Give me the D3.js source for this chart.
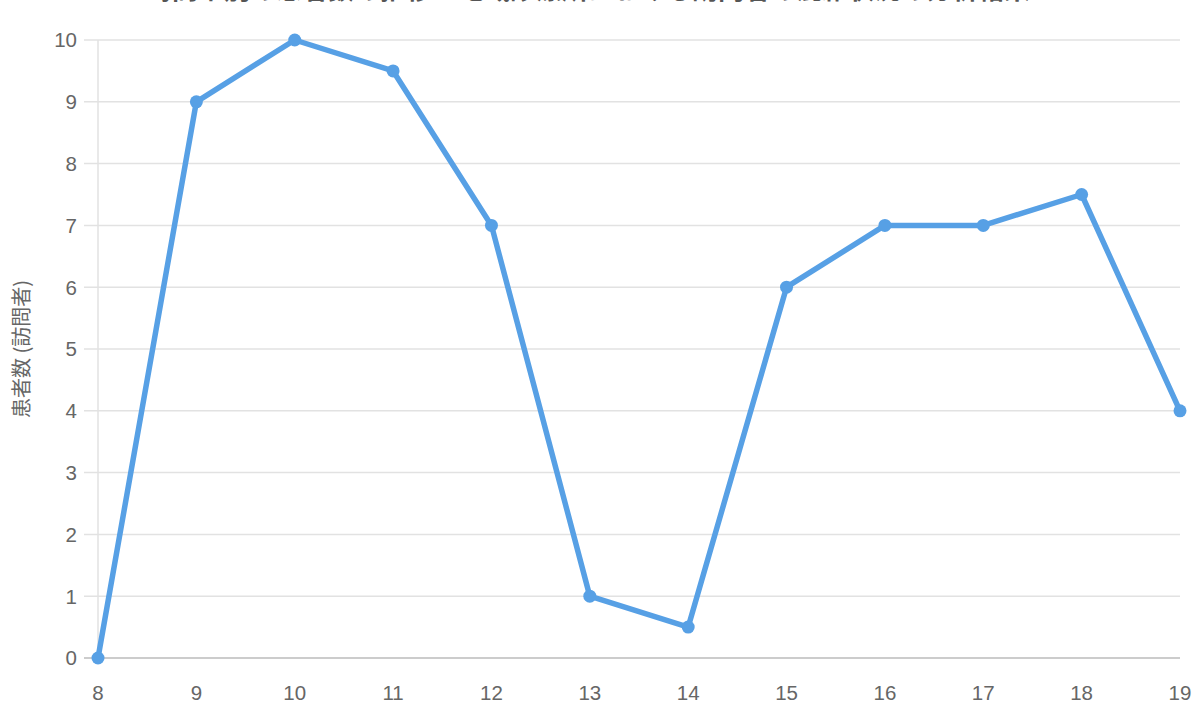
<!DOCTYPE html>
<html><head><meta charset="utf-8">
<script src="https://cdn.jsdelivr.net/npm/d3@7"></script>
<style>
html,body{margin:0;padding:0;background:#fff;}
svg text{font-family:"Liberation Sans","Noto Sans CJK JP",Arial,sans-serif;}
</style></head>
<body>
<svg id="c" width="1200" height="720"></svg>
<script>
const hours = [8,9,10,11,12,13,14,15,16,17,18,19];
const patients = [0,9,10,9.5,7,1,0.5,6,7,7,7.5,4];
const yTicks = [0,1,2,3,4,5,6,7,8,9,10];
const title = "時間帯別の患者数の推移：地域診療所における訪問者の混雑状況の分析結果";
const yLabel = "患者数 (訪問者)";

const svg = d3.select("#c");
const x = d3.scaleLinear().domain([8,19]).range([98,1180]);
const y = d3.scaleLinear().domain([0,10]).range([658,40]);

// gridlines
svg.append("g").selectAll("line").data(yTicks).join("line")
  .attr("x1",84).attr("x2",1180)
  .attr("y1",d=>y(d)).attr("y2",d=>y(d))
  .attr("stroke",d=>d===0?"#cccccc":"#e2e2e2").attr("stroke-width",d=>d===0?2:1.5);
svg.append("line").attr("x1",x(8)).attr("x2",x(8)).attr("y1",y(10)).attr("y2",y(0))
  .attr("stroke","#e2e2e2").attr("stroke-width",1.5);

// y tick labels
svg.append("g").selectAll("text").data(yTicks).join("text")
  .attr("x",77).attr("y",d=>y(d)).attr("dy","0.36em")
  .attr("text-anchor","end").attr("font-size",20.5).attr("fill","#666")
  .text(d=>d);
// x tick labels
svg.append("g").selectAll("text").data(hours).join("text")
  .attr("x",d=>x(d)).attr("y",700)
  .attr("text-anchor","middle").attr("font-size",20.5).attr("fill","#666")
  .text(d=>d);

// y label
svg.append("text").attr("transform","translate(29,349) rotate(-90)")
  .attr("text-anchor","middle").attr("font-size",20).attr("fill","#666")
  .style("font-family","'Noto Sans CJK JP',sans-serif")
  .text(yLabel);

// title (mostly cut off at top, as in the reference)
svg.append("text").attr("x",588).attr("y",-1)
  .attr("text-anchor","middle").attr("font-size",26).attr("font-weight","bold").attr("fill","#555")
  .style("font-family","'Noto Sans CJK JP',sans-serif")
  .text(title);

const data = hours.map((h,i)=>({h,v:patients[i]}));
svg.append("path").datum(data)
  .attr("fill","none").attr("stroke","#57a0e5").attr("stroke-width",5.5).attr("stroke-linejoin","round")
  .attr("d",d3.line().x(d=>x(d.h)).y(d=>y(d.v)));
svg.append("g").selectAll("circle").data(data).join("circle")
  .attr("cx",d=>x(d.h)).attr("cy",d=>y(d.v)).attr("r",6.5).attr("fill","#57a0e5");
</script>
</body></html>
